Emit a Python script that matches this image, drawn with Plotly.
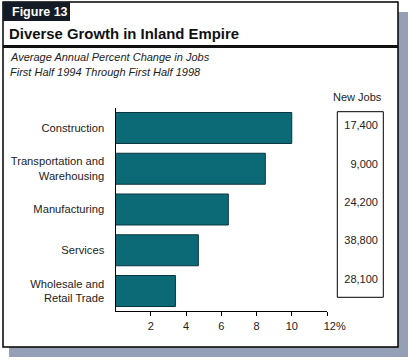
import plotly.graph_objects as go

W, H = 412, 361

categories = ["Construction", "Transportation and<br>Warehousing", "Manufacturing",
              "Services", "Wholesale and<br>Retail Trade"]
pct_change = [10.0, 8.5, 6.4, 4.7, 3.4]
new_jobs = ["17,400", "9,000", "24,200", "38,800", "28,100"]
x_tickvals = [2, 4, 6, 8, 10, 12]
x_ticktext = ["2", "4", "6", "8", "10", "\u00a0\u00a0\u00a0\u00a0\u00a012%"]

FONT = "Liberation Sans, Arial, Helvetica, sans-serif"
BAR = "#0c6a77"
BAR_EDGE = "#0a3440"
SHADOW = "#959fb6"


def px(x):
    return x / W


def py(y):
    return 1 - y / H


fig = go.Figure()
fig.add_trace(go.Bar(
    x=pct_change, y=list(range(len(categories))), orientation="h",
    marker=dict(color=BAR, line=dict(color=BAR_EDGE, width=1)),
    hoverinfo="skip", showlegend=False,
))
fig.add_trace(go.Scatter(
    x=[1] * len(new_jobs), y=list(range(len(new_jobs))), mode="text",
    text=new_jobs, textposition="middle left",
    textfont=dict(family=FONT, size=11, color="#222"),
    xaxis="x2", yaxis="y2", hoverinfo="skip", showlegend=False,
))

ydom = [py(311.4), py(107.6)]
fig.update_layout(
    width=W, height=H, autosize=False,
    margin=dict(l=0, r=0, t=0, b=0, pad=0, autoexpand=False),
    paper_bgcolor="white", plot_bgcolor="rgba(0,0,0,0)",
    bargap=0.24,
    font=dict(family=FONT, size=11, color="#222"),
    xaxis=dict(domain=[px(115.5), px(327)], range=[0, 12], tickvals=x_tickvals,
               ticktext=x_ticktext, showgrid=False, zeroline=False, automargin=False,
               showline=True, linecolor="black", linewidth=1,
               ticks="outside", ticklen=4, tickcolor="black", tickwidth=1,
               tickfont=dict(size=11, family=FONT, color="#222"), fixedrange=True),
    yaxis=dict(domain=ydom, range=[4.5, -0.5], tickvals=list(range(len(categories))),
               ticktext=categories, showgrid=False, zeroline=False, automargin=False,
               showline=True, linecolor="black", linewidth=1, ticks="",
               ticklabelstandoff=8,
               tickfont=dict(size=11.2, family=FONT, color="#222"), fixedrange=True),
    xaxis2=dict(domain=[px(337.3), px(378)], range=[0, 1], visible=False,
                anchor="y2", fixedrange=True, automargin=False),
    yaxis2=dict(domain=ydom, range=[4.82, -0.5], visible=False,
                anchor="x2", fixedrange=True, automargin=False),
)

shapes = [
    # shadow
    dict(type="rect", xref="paper", yref="paper", x0=px(9), x1=px(408), y0=py(357), y1=py(12),
         fillcolor=SHADOW, line=dict(width=0), layer="below"),
    # frame
    dict(type="rect", xref="paper", yref="paper", x0=px(3), x1=px(398), y0=py(347), y1=py(2),
         fillcolor="white", line=dict(color="black", width=1.5), layer="below"),
    # figure label box
    dict(type="rect", xref="paper", yref="paper", x0=px(3), x1=px(70), y0=py(21), y1=py(2),
         fillcolor="#141b26", line=dict(width=0), layer="below"),
    # heavy rule
    dict(type="line", xref="paper", yref="paper", x0=px(3), x1=px(398), y0=py(46.5), y1=py(46.5),
         line=dict(color="#111", width=3), layer="below"),
    # new jobs box
    dict(type="rect", xref="paper", yref="paper", x0=px(337.3), x1=px(383.3), y0=py(297.3), y1=py(111.7),
         fillcolor="rgba(0,0,0,0)", line=dict(color="black", width=1), layer="below"),
]
fig.update_layout(shapes=shapes)

ann = [
    dict(text="<b>Figure 13</b>", x=px(9.5), y=py(12), font=dict(size=12.5, color="white")),
    dict(text="<b>Diverse Growth in Inland Empire</b>", x=px(7), y=py(34), font=dict(size=14.9, color="#111")),
    dict(text="<i>Average Annual Percent Change in Jobs</i>", x=px(8), y=py(57), font=dict(size=11, color="#222")),
    dict(text="<i>First Half 1994 Through First Half 1998</i>", x=px(8), y=py(72), font=dict(size=11, color="#222")),
]
annotations = []
for a in ann:
    d = dict(xref="paper", yref="paper", xanchor="left", yanchor="middle", showarrow=False)
    d.update(a)
    d["font"] = dict(family=FONT, **a["font"])
    annotations.append(d)
annotations.append(dict(text="New Jobs", xref="paper", yref="paper", x=px(383.5), y=py(97),
                        xanchor="right", yanchor="middle", showarrow=False,
                        font=dict(family=FONT, size=11, color="#222")))
fig.update_layout(annotations=annotations)

fig.write_html("out.html", config={"displayModeBar": False, "responsive": False},
               post_script="document.body.style.margin='0';document.body.style.overflow='hidden';")
